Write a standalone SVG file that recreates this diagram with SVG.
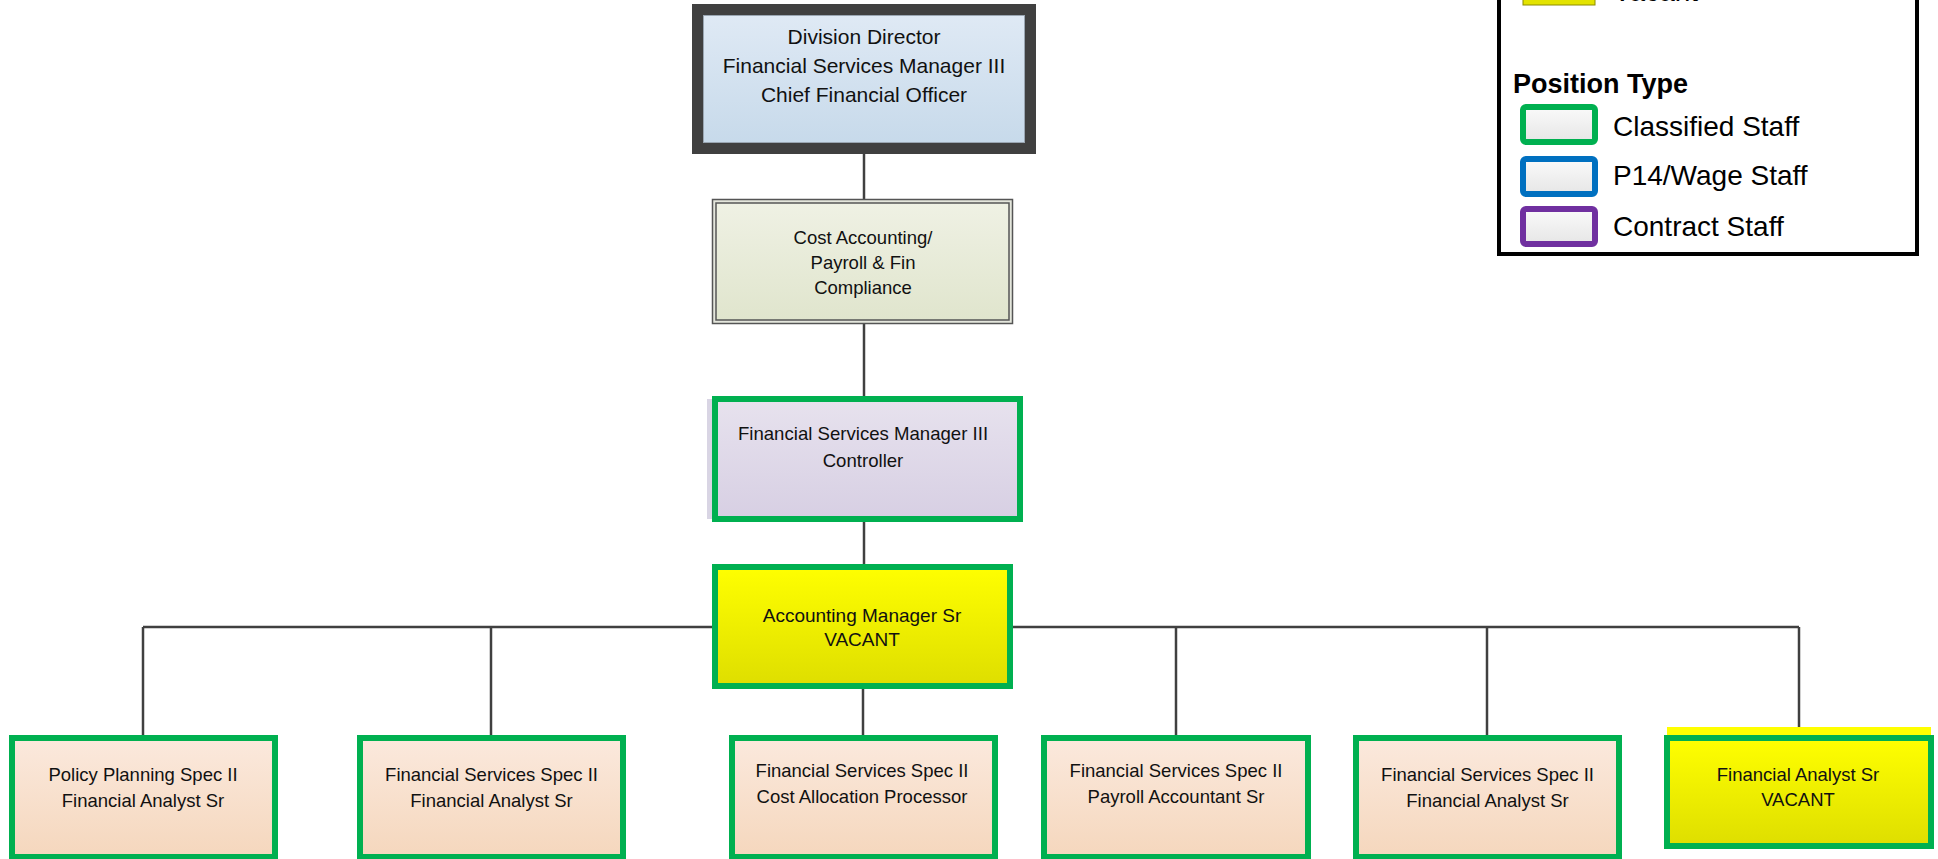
<svg xmlns="http://www.w3.org/2000/svg" width="1938" height="859" viewBox="0 0 1938 859">
<defs>
<linearGradient id="gBlue" x1="0" y1="0" x2="0" y2="1"><stop offset="0" stop-color="#e0eaf5"/><stop offset="1" stop-color="#c6d9ea"/></linearGradient>
<linearGradient id="gOlive" x1="0" y1="0" x2="0" y2="1"><stop offset="0" stop-color="#eff1e4"/><stop offset="1" stop-color="#e0e5cd"/></linearGradient>
<linearGradient id="gLav" x1="0" y1="0" x2="0" y2="1"><stop offset="0" stop-color="#e7e2ee"/><stop offset="1" stop-color="#d7cfe3"/></linearGradient>
<linearGradient id="gYel" x1="0" y1="0" x2="0" y2="1"><stop offset="0" stop-color="#ffff00"/><stop offset="1" stop-color="#dede00"/></linearGradient>
<linearGradient id="gPeach" x1="0" y1="0" x2="0" y2="1"><stop offset="0" stop-color="#fbe9dd"/><stop offset="1" stop-color="#f5d7bd"/></linearGradient>
<linearGradient id="gGray" x1="0" y1="0" x2="0" y2="1"><stop offset="0" stop-color="#fafafa"/><stop offset="1" stop-color="#e6e6e6"/></linearGradient>
</defs>
<style>
.t{font-family:"Liberation Sans",Arial,sans-serif;fill:#111;text-anchor:middle}
.green{stroke:#00b050;stroke-width:6}
.conn{stroke:#404040;stroke-width:2.5;fill:none}
.leg{font-family:"Liberation Sans",Arial,sans-serif;fill:#000;font-size:28px}
</style>
<rect width="1938" height="859" fill="#ffffff"/>

<g id="connectors">
<line class="conn" x1="864" y1="154" x2="864" y2="199"/>
<line class="conn" x1="864" y1="324" x2="864" y2="397"/>
<line class="conn" x1="864" y1="522" x2="864" y2="565"/>
<line class="conn" x1="143" y1="627" x2="1799" y2="627"/>
<line class="conn" x1="143" y1="627" x2="143" y2="736"/>
<line class="conn" x1="491" y1="627" x2="491" y2="736"/>
<line class="conn" x1="863" y1="688" x2="863" y2="736"/>
<line class="conn" x1="1176" y1="627" x2="1176" y2="736"/>
<line class="conn" x1="1487" y1="627" x2="1487" y2="736"/>
<line class="conn" x1="1799" y1="627" x2="1799" y2="728"/>
</g>

<g id="node-director">
<rect x="697.5" y="9.5" width="333" height="139" fill="url(#gBlue)" stroke="#404040" stroke-width="11"/>
<rect x="703.5" y="15.5" width="321" height="127" fill="none" stroke="#9aa6b2" stroke-width="1"/>
<text class="t" font-size="21" x="864" y="43.5">Division Director</text>
<text class="t" font-size="21" x="864" y="72.5">Financial Services Manager III</text>
<text class="t" font-size="21" x="864" y="101.5">Chief Financial Officer</text>
</g>

<g id="node-cost">
<rect x="712.5" y="199.5" width="300" height="124" fill="#e4e6dc" stroke="#555" stroke-width="1.5"/>
<rect x="716" y="203" width="293" height="117" fill="url(#gOlive)" stroke="#555" stroke-width="1.5"/>
<text class="t" font-size="18.5" x="863" y="243.5">Cost Accounting/</text>
<text class="t" font-size="18.5" x="863" y="268.5">Payroll &amp; Fin</text>
<text class="t" font-size="18.5" x="863" y="293.5">Compliance</text>
</g>

<g id="node-controller">
<rect x="707" y="399" width="10" height="120" fill="#d9d5e4"/>
<rect x="715" y="399" width="305" height="120" fill="url(#gLav)" class="green"/>
<text class="t" font-size="18.6" x="863" y="439.5">Financial Services Manager III</text>
<text class="t" font-size="18.6" x="863" y="466.5">Controller</text>
</g>

<g id="node-acctmgr">
<rect x="715" y="567" width="295" height="119" fill="url(#gYel)" class="green"/>
<text class="t" font-size="19" x="862" y="621.5">Accounting Manager Sr</text>
<text class="t" font-size="19" x="862" y="645.5">VACANT</text>
</g>

<g id="node-policy">
<rect x="12" y="738" width="263" height="119" fill="url(#gPeach)" class="green"/>
<text class="t" font-size="18.5" x="143" y="780.5">Policy Planning Spec II</text>
<text class="t" font-size="18.5" x="143" y="806.5">Financial Analyst Sr</text>
</g>

<g id="node-fss1">
<rect x="360" y="738" width="263" height="119" fill="url(#gPeach)" class="green"/>
<text class="t" font-size="18.5" x="491.5" y="780.5">Financial Services Spec II</text>
<text class="t" font-size="18.5" x="491.5" y="806.5">Financial Analyst Sr</text>
</g>

<g id="node-fss2">
<rect x="732" y="738" width="263" height="119" fill="url(#gPeach)" class="green"/>
<text class="t" font-size="18.5" x="862" y="776.5">Financial Services Spec II</text>
<text class="t" font-size="18.5" x="862" y="802.5">Cost Allocation Processor</text>
</g>

<g id="node-fss3">
<rect x="1044" y="738" width="264" height="119" fill="url(#gPeach)" class="green"/>
<text class="t" font-size="18.5" x="1176" y="776.5">Financial Services Spec II</text>
<text class="t" font-size="18.5" x="1176" y="802.5">Payroll Accountant Sr</text>
</g>

<g id="node-fss4">
<rect x="1356" y="738" width="263" height="119" fill="url(#gPeach)" class="green"/>
<text class="t" font-size="18.5" x="1487.5" y="780.5">Financial Services Spec II</text>
<text class="t" font-size="18.5" x="1487.5" y="806.5">Financial Analyst Sr</text>
</g>

<g id="node-analyst-vacant">
<rect x="1667" y="727" width="264" height="10" fill="#ffff00"/>
<rect x="1667" y="738" width="264" height="108" fill="url(#gYel)" class="green"/>
<text class="t" font-size="18.5" x="1798" y="780.5">Financial Analyst Sr</text>
<text class="t" font-size="18.5" x="1798" y="805.5">VACANT</text>
</g>

<g id="legend">
<rect x="1499" y="-10" width="418" height="264" fill="#ffffff" stroke="#000" stroke-width="4"/>
<rect x="1523" y="-8" width="72" height="13" fill="#e3e300" stroke="#8c8c00" stroke-width="1"/>
<text class="leg" x="1613" y="1">Vacant</text>
<text font-family="Liberation Sans,Arial,sans-serif" font-weight="bold" font-size="27" x="1513" y="93" fill="#000">Position Type</text>
<rect x="1523" y="107" width="72" height="35" rx="3" fill="url(#gGray)" stroke="#00b050" stroke-width="6"/>
<rect x="1523" y="159" width="72" height="35" rx="3" fill="url(#gGray)" stroke="#0070c0" stroke-width="6"/>
<rect x="1523" y="209" width="72" height="35" rx="3" fill="url(#gGray)" stroke="#7030a0" stroke-width="6"/>
<text class="leg" x="1613" y="136">Classified Staff</text>
<text class="leg" x="1613" y="185">P14/Wage Staff</text>
<text class="leg" x="1613" y="236">Contract Staff</text>
</g>
</svg>
